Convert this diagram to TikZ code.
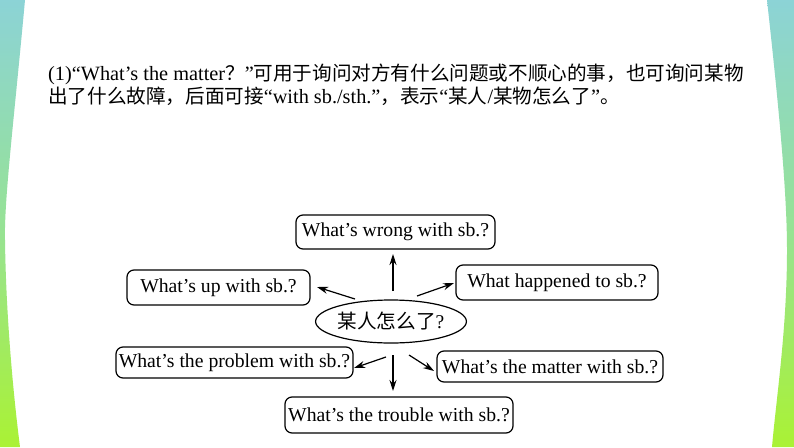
\documentclass[tikz,border=0pt]{standalone}
\usepackage{fontspec}
\setmainfont{Liberation Serif}
\newfontfamily\cjkraw{Noto Sans CJK SC}
\newcommand{\cjk}{\fontsize{19.6}{22}\cjkraw}
\usetikzlibrary{shapes.geometric,arrows.meta}
\definecolor{striptop}{RGB}{140,211,214}
\definecolor{stripmid}{RGB}{150,226,150}
\definecolor{stripbot}{RGB}{170,242,52}
\begin{document}
\begin{tikzpicture}[x=1pt,y=-1pt,
  qbox/.style={draw, line width=1.2pt, rounded corners=7pt, inner sep=0pt,
    font=\fontsize{19.7}{22}\selectfont},
  centre/.style={draw, ellipse, line width=1.2pt, inner sep=0pt,
    minimum width=132pt, minimum height=43pt, font=\fontsize{19.5}{22}\selectfont},
  arr/.style={line width=1.2pt, -{Stealth[length=11pt,width=7pt]}},
  strip/.style={top color=striptop, bottom color=stripbot, middle color=stripmid, draw=none},
  para/.style={anchor=base west, inner sep=0pt, font=\fontsize{20.3}{22}\selectfont}]
\useasboundingbox (0,0) rectangle (794,447);
\fill[white] (0,0) rectangle (794,447);
% side strips
\shade[strip] (0,0) -- (25,0) .. controls (14,120) and (4,200) .. (5,240)
  .. controls (6,320) and (14,400) .. (20,447) -- (0,447) -- cycle;
\shade[strip] (794,0) -- (767,0) .. controls (778,100) and (787,190) .. (787,250)
  .. controls (787,330) and (776,400) .. (772,447) -- (794,447) -- cycle;
% paragraph
\node[para] (l1) at (48,80) {(1)“What’s the matter{\cjk ？}”{\cjk 可用于询问对方有什么问题或不顺心的事，也可询问某物}};
\node[para] (l2) at (48,103.5) {{\cjk 出了什么故障，后面可接}“with sb./sth.”{\cjk ，表示}“{\cjk 某人}/{\cjk 某物怎么了}”{\cjk 。}};
% diagram
\node[centre] (c) at (391,321.5) {{\cjk 某人怎么了}?};
\node[qbox, minimum width=199pt, minimum height=34pt] (wrong) at (395.5,232) {What’s wrong with sb.?};
\node[qbox, minimum width=183pt, minimum height=35pt] (up) at (218.5,287.5) {What’s up with sb.?};
\node[qbox, minimum width=202pt, minimum height=35pt] (happened) at (557,282.5) {What happened to sb.?};
\node[qbox, minimum width=237pt, minimum height=31pt] (problem) at (234.5,362.5) {What’s the problem with sb.?};
\node[qbox, minimum width=226pt, minimum height=31pt] (matter) at (550,366.5) {What’s the matter with sb.?};
\node[qbox, minimum width=228pt, minimum height=36pt] (trouble) at (399,415) {What’s the trouble with sb.?};
% arrow ends
\coordinate (aw1) at (393,291); \coordinate (aw2) at (393,254);
\coordinate (au1) at (355,299); \coordinate (au2) at (317,287);
\coordinate (ah1) at (417,296); \coordinate (ah2) at (454,283);
\coordinate (at1) at (393,355); \coordinate (at2) at (393,391);
\coordinate (ap1) at (386,357); \coordinate (ap2) at (354,368);
\coordinate (am1) at (409,355); \coordinate (am2) at (434,371);
\draw[arr] (aw1) -- (aw2);
\draw[arr] (au1) -- (au2);
\draw[arr] (ah1) -- (ah2);
\draw[arr] (at1) -- (at2);
\draw[arr] (ap1) -- (ap2);
\draw[arr] (am1) -- (am2);
\end{tikzpicture}
\end{document}
